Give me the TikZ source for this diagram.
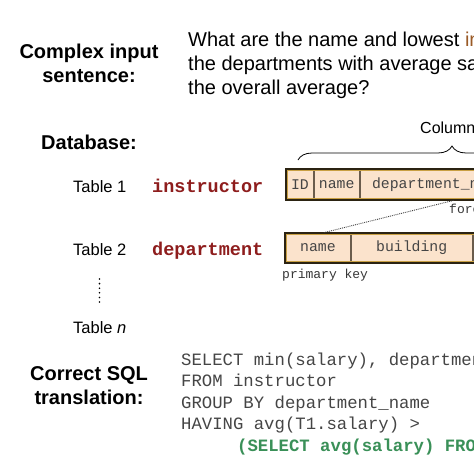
\documentclass[tikz,border=0pt]{standalone}
\usepackage{fontspec}
\setmainfont{Liberation Sans}
\setmonofont{Liberation Mono}
\usepackage{xcolor}
\usetikzlibrary{positioning, decorations.pathreplacing, calc}
\definecolor{tblred}{HTML}{8E1D1D}
\definecolor{sqlgreen}{HTML}{3A9058}
\definecolor{cellfill}{HTML}{FBE3CC}
\definecolor{cellline}{HTML}{6A5C4C}
\definecolor{rimgold}{HTML}{C9A043}
\definecolor{rimdark}{HTML}{2B2312}
\definecolor{codegray}{HTML}{454545}
\definecolor{qbrown}{HTML}{9A5A26}

\begin{document}
\begin{tikzpicture}[x=1pt, y=-1pt,
    heading/.style={font=\fontsize{20}{24}\selectfont\bfseries, align=center, inner sep=0pt, anchor=base},
    tablename/.style={font=\fontsize{16.5}{20}\selectfont, inner sep=0pt, anchor=base west},
    relname/.style={font=\fontsize{18.5}{20}\selectfont\ttfamily\bfseries, text=tblred, inner sep=0pt, anchor=base west},
    cell/.style={draw=cellline, fill=cellfill, line width=0.8pt, inner sep=0pt, anchor=west,
        font=\fontsize{14.8}{16}\selectfont\ttfamily, text=codegray},
    keynote/.style={font=\fontsize{13}{15}\selectfont\ttfamily, text=codegray!80!black, inner sep=0pt, anchor=base west},
    rim/.style={draw=rimdark, line width=2pt},
    rimin/.style={draw=rimgold, line width=1.2pt}]
    \useasboundingbox (0,0) rectangle (474,474);
    \fill[white] (0,0) rectangle (474,474);
    \clip (0,0) rectangle (474,474);

    % question (base = last line)
    \node[heading] (qlabel) at (89,82) {Complex input\\sentence:};
    \node[font=\fontsize{20}{24}\selectfont, align=left, inner sep=0pt, anchor=base west] (question) at (188,94)
        {What are the name and lowest {\color{qbrown}instructor} salary of\\the departments with average salary greater than\\the overall average?};

    % database
    \node[heading] (dblabel) at (89,149) {Database:};
    \node[tablename] (t1) at (73,192) {Table 1};
    \node[relname] (r1) at (152,192) {instructor};
    \node[tablename] (t2) at (73,255) {Table 2};
    \node[relname] (r2) at (152,255) {department};
    \node[tablename] (tn) at (73,333) {Table \textit{n}};
    \coordinate (dtop) at (99.5,279);
    \coordinate (dbot) at (99.5,306);
    \draw[line width=1.8pt, line cap=round, dash pattern=on 0pt off 4.6pt] (dtop) -- (dbot);

    % instructor table
    \node[cell, minimum width=27, minimum height=31] (i-id) at (286,184.5) {ID};
    \node[cell, minimum width=45, minimum height=31, right=0pt of i-id] (i-name) {name};
    \node[cell, minimum height=31, text width=186, inner xsep=12pt, align=left, right=0pt of i-name] (i-dept) {department\_name};
    \draw[rim] (i-id.north west) rectangle (i-dept.south east);
    \draw[rimin] ([shift={(1.8,1.8)}]i-id.north west) rectangle ([shift={(-1.8,-1.8)}]i-dept.south east);

    % department table
    \node[cell, minimum width=65, minimum height=30] (d-name) at (285,248) {name};
    \node[cell, minimum width=121, minimum height=30, right=0pt of d-name] (d-bldg) {building};
    \node[cell, minimum width=140, minimum height=30, right=0pt of d-bldg] (d-budget) {budget};
    \draw[rim] (d-name.north west) rectangle (d-budget.south east);
    \draw[rimin] ([shift={(1.8,1.8)}]d-name.north west) rectangle ([shift={(-1.8,-1.8)}]d-budget.south east);

    % keys
    \node[keynote] (fk) at (449,213) {foreign key};
    \node[keynote] (pk) at (282,278) {primary key};
    \draw[densely dotted, line width=0.9pt, black!75] ([xshift=94pt]i-dept.south west) -- ([xshift=6pt]d-name.north);

    % columns brace
    \coordinate (bl) at (298,160);
    \coordinate (br) at (606,160);
    \draw[line width=0.8pt, decorate, decoration={brace, amplitude=14pt}] (bl) -- (br);
    \node[font=\fontsize{16}{18}\selectfont, inner sep=0pt, anchor=base west] (cols) at (420,133) {Columns};

    % sql (base = last line)
    \node[heading] (sqllabel) at (89,404) {Correct SQL\\translation:};
    \node[font=\fontsize{17.3}{21.5}\selectfont\ttfamily, text=codegray, align=left, inner sep=0pt, anchor=base west] (sql) at (181,451)
        {SELECT min(salary), department\_name\\FROM instructor\\GROUP BY department\_name\\HAVING avg(T1.salary) >\\
         \hspace*{56pt}{\bfseries\color{sqlgreen}(SELECT avg(salary) FROM instructor)}};
\end{tikzpicture}
\end{document}
